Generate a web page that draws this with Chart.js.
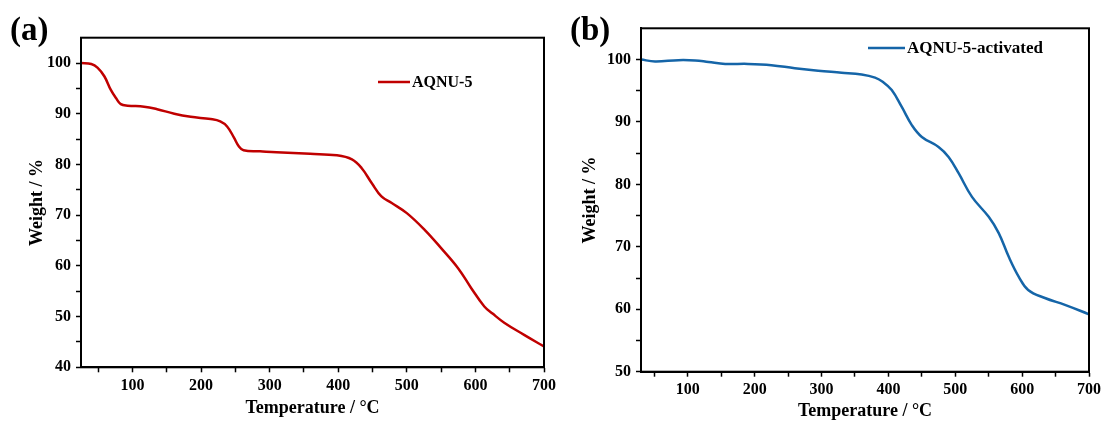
<!DOCTYPE html>
<html>
<head>
<meta charset="utf-8">
<script src="https://cdn.jsdelivr.net/npm/chart.js@4.4.1/dist/chart.umd.min.js"></script>
<style>
  body { margin: 0; background: #fff; }
  #wrap { position: relative; width: 1105px; height: 432px; }
  #chartA { position: absolute; left: 0; top: 0; }
  #chartB { position: absolute; left: 560px; top: 0; }
</style>
</head>
<body>
<div id="wrap">
  <canvas id="chartA" width="560" height="432"></canvas>
  <canvas id="chartB" width="545" height="432"></canvas>
</div>
<script>
// TGA curves

// (a) AQNU-5
const tempA = [25, 40, 49, 59, 68.5, 76, 83, 93, 117, 136, 161, 185, 214, 228, 238, 248, 255, 262,
    286, 310, 359, 398, 420, 434, 449, 463, 478, 500, 526, 550, 575, 594, 613, 625, 642, 671, 700];
const weightA = [100, 99.8, 99.1, 97.4, 94.7, 93.1, 91.9, 91.6, 91.4, 90.9, 90.0, 89.4, 88.95, 88.5, 87.5, 85.3, 83.6, 82.8,
    82.6, 82.4, 82.1, 81.8, 81.0, 79.3, 76.3, 73.7, 72.4, 70.4, 67.1, 63.5, 59.5, 55.6, 52.0, 50.6, 48.8, 46.4, 44.1];

// (b) AQNU-5-activated
const tempB = [30, 51, 86, 111, 131, 156, 190, 225, 260, 295, 330, 360, 380, 392, 405, 420, 435,
    450, 475, 490, 505, 525, 550, 565, 580, 595, 609, 634, 664, 700];
const weightB = [100, 99.7, 99.9, 99.85, 99.6, 99.3, 99.3, 99.1, 98.6, 98.2, 97.9, 97.6, 97.1, 96.4, 95.1, 92.4, 89.5,
    87.6, 86.0, 84.4, 81.8, 78.0, 74.8, 72.2, 68.4, 65.2, 63.1, 61.8, 60.7, 59.2];

// tick positions (every 50 / 5), labels only on the round ones
const xTicks = [50, 100, 150, 200, 250, 300, 350, 400, 450, 500, 550, 600, 650, 700];
const yTicksA = [40, 45, 50, 55, 60, 65, 70, 75, 80, 85, 90, 95, 100];
const yTicksB = [50, 55, 60, 65, 70, 75, 80, 85, 90, 95, 100];

const SERIF = '"Liberation Serif", "Times New Roman", serif';
Chart.defaults.font.family = SERIF;
Chart.defaults.font.weight = 'bold';
Chart.defaults.color = '#000';

// box around plot, panel letter and a small legend inside the plot
const frameAndText = {
    id: 'frameAndText',
    afterDraw(chart, args, opts) {
        const ctx = chart.ctx;
        const a = chart.chartArea;
        ctx.save();
        ctx.strokeStyle = '#000';
        ctx.lineWidth = 2;
        ctx.strokeRect(a.left, a.top, a.right - a.left, a.bottom - a.top);

        ctx.fillStyle = '#000';
        ctx.font = 'bold 33px ' + SERIF;
        ctx.textBaseline = 'alphabetic';
        ctx.fillText(opts.letter, 10, 40);

        ctx.strokeStyle = opts.color;
        ctx.lineWidth = 2.5;
        ctx.beginPath();
        ctx.moveTo(opts.legX, opts.legY);
        ctx.lineTo(opts.legX + opts.legLen, opts.legY);
        ctx.stroke();
        ctx.font = 'bold ' + opts.legSize + 'px ' + SERIF;
        ctx.textBaseline = 'middle';
        ctx.fillText(opts.label, opts.legX + opts.legLen + 2, opts.legY + 1);
        ctx.restore();
    }
};

function makeChart(id, temps, weights, color, cfg) {
    const points = temps.map((t, i) => ({ x: t, y: weights[i] }));
    return new Chart(document.getElementById(id), {
        type: 'line',
        data: {
            datasets: [{
                label: cfg.label,
                data: points,
                borderColor: color,
                borderWidth: 2.5,
                pointRadius: 0,
                tension: 0.4,
                fill: false
            }]
        },
        options: {
            responsive: false,
            animation: false,
            events: [],
            layout: { padding: { top: cfg.top, right: cfg.right, left: 0, bottom: 0 } },
            plugins: {
                legend: { display: false },
                tooltip: { enabled: false },
                frameAndText: {
                    letter: cfg.letter, label: cfg.label, color: color,
                    legX: cfg.legX, legY: cfg.legY, legLen: cfg.legLen, legSize: cfg.legSize
                }
            },
            scales: {
                x: {
                    type: 'linear',
                    min: cfg.xMin,
                    max: 700,
                    afterBuildTicks: (s) => { s.ticks = xTicks.map(v => ({ value: v })); },
                    afterFit: (s) => { s.height = cfg.xHeight; },
                    ticks: {
                        autoSkip: false,
                        maxRotation: 0,
                        padding: 4,
                        font: { size: 16 },
                        callback: (v) => (v % 100 === 0 ? v : '')
                    },
                    grid: { drawOnChartArea: false, tickLength: 5, tickColor: '#000', tickWidth: 1.5 },
                    border: { color: '#000', width: 2 },
                    title: {
                        display: true,
                        text: 'Temperature / °C',
                        font: { size: 18 },
                        padding: { top: 0, bottom: cfg.xTitlePad }
                    }
                },
                y: {
                    min: cfg.yMin,
                    max: 105,
                    afterBuildTicks: (s) => { s.ticks = cfg.yTicks.map(v => ({ value: v })); },
                    afterFit: (s) => { s.width = 81; },
                    ticks: {
                        autoSkip: false,
                        padding: 5,
                        font: { size: 16 },
                        callback: (v) => (v % 10 === 0 ? v : '')
                    },
                    grid: { drawOnChartArea: false, tickLength: 5, tickColor: '#000', tickWidth: 1.5 },
                    border: { color: '#000', width: 2 },
                    title: {
                        display: true,
                        text: 'Weight / %',
                        font: { size: 18 },
                        padding: { top: cfg.yTitlePad, bottom: 0 }
                    }
                }
            }
        },
        plugins: [frameAndText]
    });
}

makeChart('chartA', tempA, weightA, '#c00000', {
    label: 'AQNU-5', letter: '(a)',
    xMin: 25, yMin: 40, yTicks: yTicksA,
    top: 37.7, right: 14, xHeight: 64.7,
    xTitlePad: 13, yTitlePad: 27,
    legX: 378, legY: 82, legLen: 32, legSize: 16
});

makeChart('chartB', tempB, weightB, '#1565a8', {
    label: 'AQNU-5-activated', letter: '(b)',
    xMin: 30, yMin: 50, yTicks: yTicksB,
    top: 28.3, right: 15, xHeight: 60.3,
    xTitlePad: 9.5, yTitlePad: 20,
    legX: 308, legY: 48, legLen: 37, legSize: 17
});
</script>
</body>
</html>
